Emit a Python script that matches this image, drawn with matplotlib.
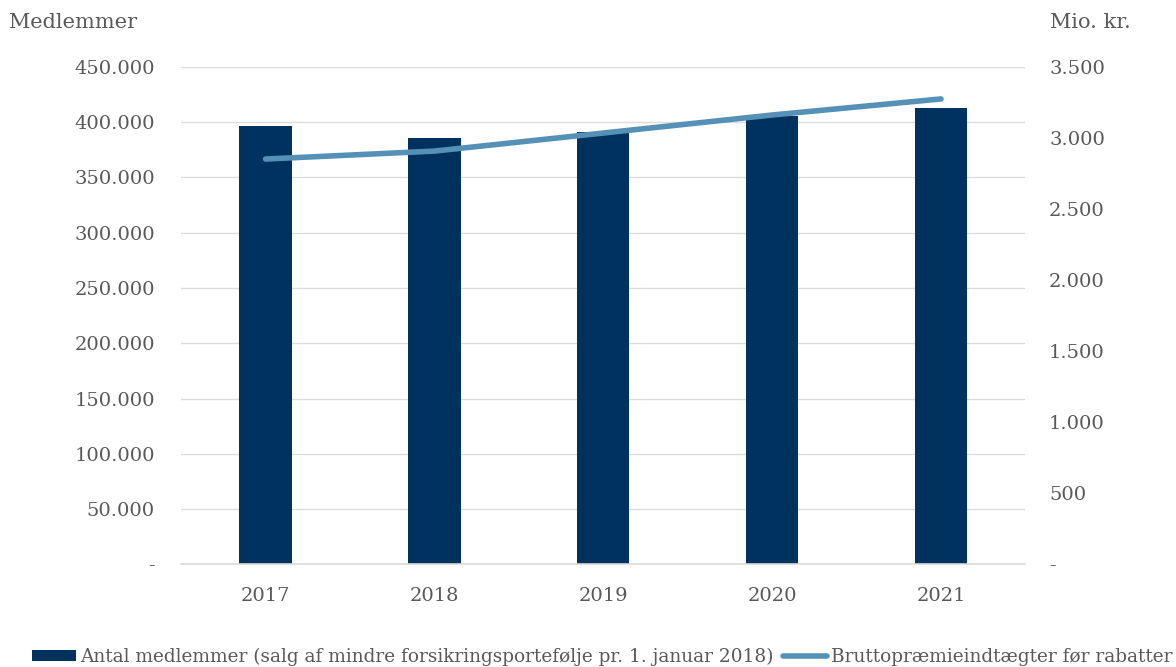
import matplotlib.pyplot as plt
from matplotlib.ticker import FuncFormatter
import numpy as np

years = ['2017', '2018', '2019', '2020', '2021']
medlemmer = [396500, 386000, 391000, 405500, 413000]
praemie = [2852, 2908, 3035, 3162, 3275]

bar_color = '#00325f'
line_color = '#5590b6'
txt = '#595959'

plt.rcParams['font.family'] = ['DejaVu Serif']


def dk_fmt(v, pos):
    if v == 0:
        return '-'
    return '{:,.0f}'.format(v).replace(',', '.')


fig = plt.figure(figsize=(11.76, 6.67), dpi=100)
ax = fig.add_axes([0.154, 0.154, 0.718, 0.7456])
x = np.arange(len(years))

ax.bar(x, medlemmer, width=0.31, color=bar_color, zorder=2,
       label='Antal medlemmer (salg af mindre forsikringsportefølje pr. 1. januar 2018)')
ax.set_xlim(-0.5, len(years) - 0.5)
ax.set_ylim(0, 450000)
ax.set_yticks(np.arange(0, 450001, 50000))
ax.yaxis.set_major_formatter(FuncFormatter(dk_fmt))
ax.set_xticks(x)
ax.set_xticklabels(years)
ax.grid(axis='y', color='#dcdcdc', linewidth=1.0, zorder=0)
ax.set_axisbelow(True)

ax2 = ax.twinx()
ax2.plot(x, praemie, color=line_color, linewidth=4, solid_capstyle='round',
         zorder=3, label='Bruttopræmieindtægter før rabatter')
ax2.set_ylim(0, 3500)
ax2.set_yticks(np.arange(0, 3501, 500))
ax2.yaxis.set_major_formatter(FuncFormatter(dk_fmt))

for a in (ax, ax2):
    for s in a.spines.values():
        s.set_visible(False)
    a.tick_params(length=0, labelsize=14, colors=txt)
ax.spines['bottom'].set_visible(True)
ax.spines['bottom'].set_color('#d9d9d9')
ax.spines['bottom'].set_linewidth(1.2)
ax.tick_params(axis='y', pad=19)
ax.tick_params(axis='x', pad=16)
ax2.tick_params(axis='y', pad=17)

fig.text(0.008, 0.967, 'Medlemmer', fontsize=15, color=txt, va='center', ha='left')
fig.text(0.893, 0.967, 'Mio. kr.', fontsize=15, color=txt, va='center', ha='left')

h1, l1 = ax.get_legend_handles_labels()
h2, l2 = ax2.get_legend_handles_labels()
fig.legend(h1 + h2, l1 + l2, loc='center left', bbox_to_anchor=(0.013, 0.015),
           ncol=2, frameon=False, fontsize=13.3, labelcolor=txt,
           handlelength=2.4, handletextpad=0.2, columnspacing=0.5,
           handleheight=0.55)

fig.savefig('out.png', dpi=100)
